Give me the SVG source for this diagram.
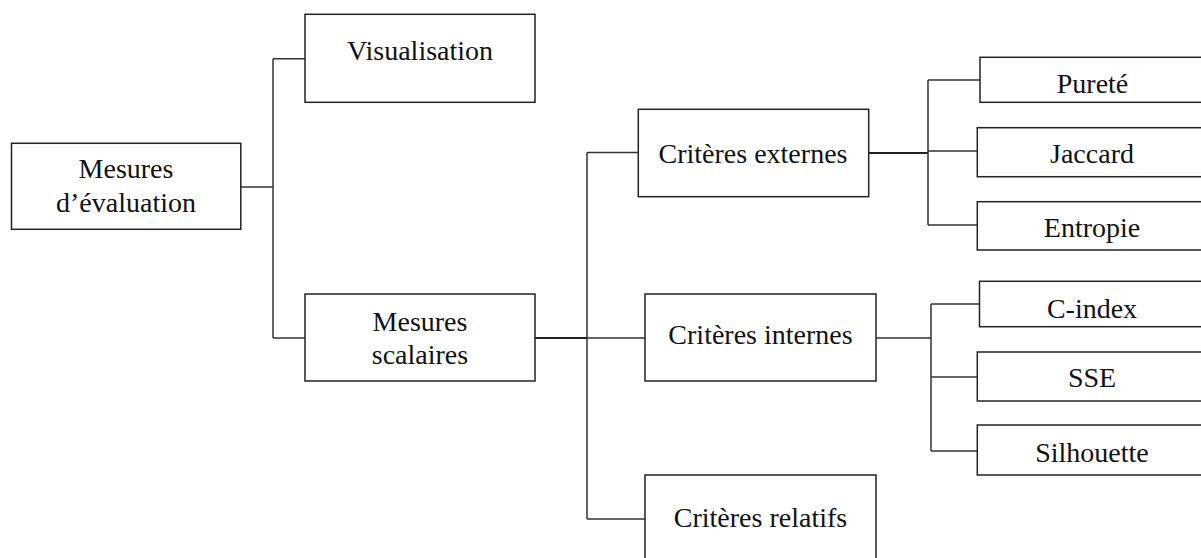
<svg xmlns="http://www.w3.org/2000/svg" width="1201" height="558" viewBox="0 0 1201 558">
<style>
.box{fill:#fff;stroke:#222;stroke-width:1.5}
.t{font-family:"Liberation Serif","Times New Roman",serif;font-size:28px;fill:#111;text-anchor:middle}
.c{fill:none;stroke:#333;stroke-width:1.5}
.c2{fill:none;stroke:#222;stroke-width:2}
</style>
<rect width="1201" height="558" fill="#fff"/>
<g id="connectors">
<path class="c" d="M241 187H273M273 58.7V338M273 58.7H305M273 338H305"/>
<path class="c2" d="M535 338H587"/>
<path class="c" d="M587 152.5V519M587 152.5H638M587 338H645M587 519H645"/>
<path class="c2" d="M868 153H928"/>
<path class="c" d="M928 80V225M928 80H980M928 151H977M928 225H977"/>
<path class="c" d="M876 338H931M931 304V451M931 304H979M931 377H977M931 451H977"/>
</g>
<g id="n-mesures-eval"><rect class="box" x="11.5" y="143.3" width="229.3" height="86"/><text class="t" x="126" y="178.3">Mesures</text><text class="t" x="126" y="211.7">d’évaluation</text></g>
<g id="n-visualisation"><rect class="box" x="305" y="14.3" width="230" height="88"/><text class="t" x="420" y="60">Visualisation</text></g>
<g id="n-mesures-scalaires"><rect class="box" x="305" y="294" width="230" height="87"/><text class="t" x="420" y="331">Mesures</text><text class="t" x="420" y="364">scalaires</text></g>
<g id="n-criteres-externes"><rect class="box" x="638.3" y="109.3" width="230.4" height="87.4"/><text class="t" x="753" y="163">Critères externes</text></g>
<g id="n-criteres-internes"><rect class="box" x="645" y="294" width="231" height="87"/><text class="t" x="760.5" y="344">Critères internes</text></g>
<g id="n-criteres-relatifs"><rect class="box" x="645" y="475" width="231" height="95"/><text class="t" x="760.5" y="527.3">Critères relatifs</text></g>
<g id="n-purete"><rect class="box" x="980" y="57.3" width="228" height="45"/><text class="t" x="1092.5" y="93.3">Pureté</text></g>
<g id="n-jaccard"><rect class="box" x="977.3" y="127.7" width="230" height="49"/><text class="t" x="1092" y="163.3">Jaccard</text></g>
<g id="n-entropie"><rect class="box" x="977.3" y="201.7" width="230" height="48.3"/><text class="t" x="1092" y="236.7">Entropie</text></g>
<g id="n-cindex"><rect class="box" x="979.5" y="281.3" width="228" height="45.4"/><text class="t" x="1092" y="318.3">C-index</text></g>
<g id="n-sse"><rect class="box" x="977.3" y="352" width="230" height="49"/><text class="t" x="1092" y="387.3">SSE</text></g>
<g id="n-silhouette"><rect class="box" x="977.3" y="425" width="230" height="50"/><text class="t" x="1092" y="461.7">Silhouette</text></g>
</svg>
